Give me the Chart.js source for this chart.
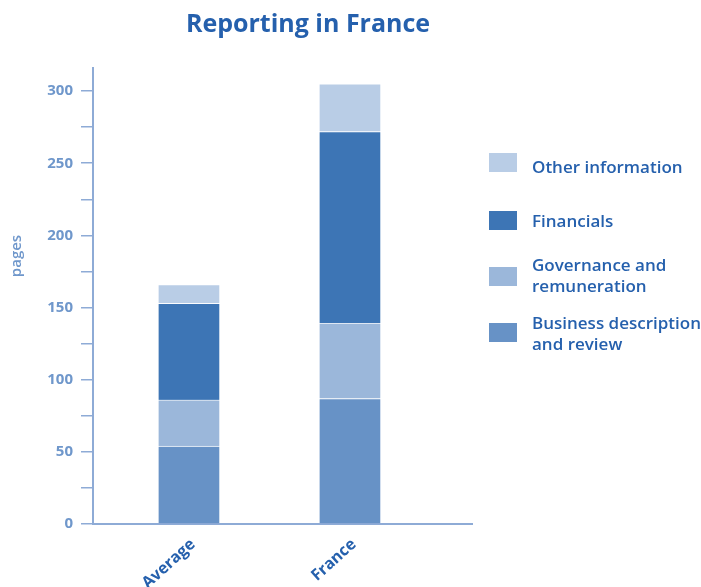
<!DOCTYPE html>
<html>
<head>
<meta charset="utf-8">
<script src="https://cdn.jsdelivr.net/npm/chart.js@4/dist/chart.umd.min.js"></script>
<style>
  html, body { margin: 0; padding: 0; background: #fff; }
  #wrap { width: 701px; height: 587px; }
</style>
</head>
<body>
<div id="wrap"><canvas id="chart" width="701" height="587"></canvas></div>
<script>
// data
const categories = ['Average', 'France'];
const business   = [54, 87];
const governance = [32, 52];
const financials = [67, 133];
const other      = [13, 33];
const yTicks = [0, 25, 50, 75, 100, 125, 150, 175, 200, 225, 250, 275, 300];

const seriesNames = ['Business description and review', 'Governance and remuneration', 'Financials', 'Other information'];
const seriesColors = ['#6792c6', '#9bb7da', '#3d75b5', '#b9cde6'];
// legend text split in lines, top to bottom
const legendLines = {
  'Other information': ['Other information'],
  'Financials': ['Financials'],
  'Governance and remuneration': ['Governance and', 'remuneration'],
  'Business description and review': ['Business description', 'and review']
};

const titleColor = '#2560ad';
const tickColor = '#6f97cb';
const axisColor = '#8eabd6';
const FONT = '"Open Sans", "Noto Sans", sans-serif';

function toPoints(arr) {
  return arr.map((v, i) => ({ x: i, y: v }));
}

const seriesValues = [business, governance, financials, other];
const datasets = seriesValues.map((vals, i) => ({
  label: seriesNames[i],
  data: toPoints(vals),
  backgroundColor: seriesColors[i],
  borderColor: 'rgba(255,255,255,0.55)',
  borderWidth: 1,
  barThickness: 62
}));

// title, y-axis title and legend drawn on the canvas
const decorPlugin = {
  id: 'decor',
  afterDraw(chart) {
    const ctx = chart.ctx;
    ctx.save();
    ctx.textBaseline = 'middle';

    // title
    ctx.fillStyle = titleColor;
    ctx.font = 'bold 25px ' + FONT;
    ctx.textAlign = 'center';
    ctx.fillText('Reporting in France', 308, 25);

    // y axis title
    ctx.save();
    ctx.translate(17, 256);
    ctx.rotate(-Math.PI / 2);
    ctx.fillStyle = tickColor;
    ctx.font = '600 15px ' + FONT;
    ctx.fillText('pages', 0, 0);
    ctx.restore();

    // legend
    const boxTops = [153, 211, 267, 323];
    const textTops = [168, 222, 266, 324];
    const order = [3, 2, 1, 0];
    ctx.textAlign = 'left';
    ctx.font = '600 17px ' + FONT;
    order.forEach((si, k) => {
      ctx.fillStyle = seriesColors[si];
      ctx.fillRect(489, boxTops[k], 28, 19);
      ctx.fillStyle = titleColor;
      legendLines[seriesNames[si]].forEach((ln, j) => {
        ctx.fillText(ln, 532, textTops[k] + j * 21);
      });
    });
    ctx.restore();
  }
};

new Chart(document.getElementById('chart'), {
  type: 'bar',
  data: { datasets: datasets },
  options: {
    responsive: false,
    animation: false,
    layout: { padding: { top: 68, right: 229, left: 0, bottom: 0 } },
    plugins: {
      legend: { display: false },
      title: { display: false },
      tooltip: { enabled: false }
    },
    scales: {
      x: {
        type: 'linear',
        stacked: true,
        offset: false,
        min: -0.596,
        max: 1.758,
        afterBuildTicks: scale => { scale.ticks = categories.map((c, i) => ({ value: i })); },
        afterFit: scale => { scale.height = 63; },
        grid: { display: false, offset: false },
        border: { display: true, color: axisColor, width: 2 },
        ticks: {
          autoSkip: false,
          maxRotation: 42,
          minRotation: 42,
          labelOffset: 4,
          color: titleColor,
          font: { family: FONT, size: 16, weight: 'bold' },
          callback: v => categories[v] ?? ''
        }
      },
      y: {
        stacked: true,
        min: 0,
        max: 316,
        afterBuildTicks: scale => { scale.ticks = yTicks.map(v => ({ value: v })); },
        afterFit: scale => { scale.width = 93; },
        grid: {
          drawOnChartArea: false,
          drawTicks: true,
          tickLength: 12,
          color: axisColor,
          lineWidth: 1.5
        },
        border: { display: true, color: axisColor, width: 2 },
        ticks: {
          padding: 8,
          color: tickColor,
          font: { family: FONT, size: 15, weight: 'bold' },
          callback: v => (v % 50 === 0 ? v : '')
        }
      }
    }
  },
  plugins: [decorPlugin]
});
</script>
</body>
</html>
